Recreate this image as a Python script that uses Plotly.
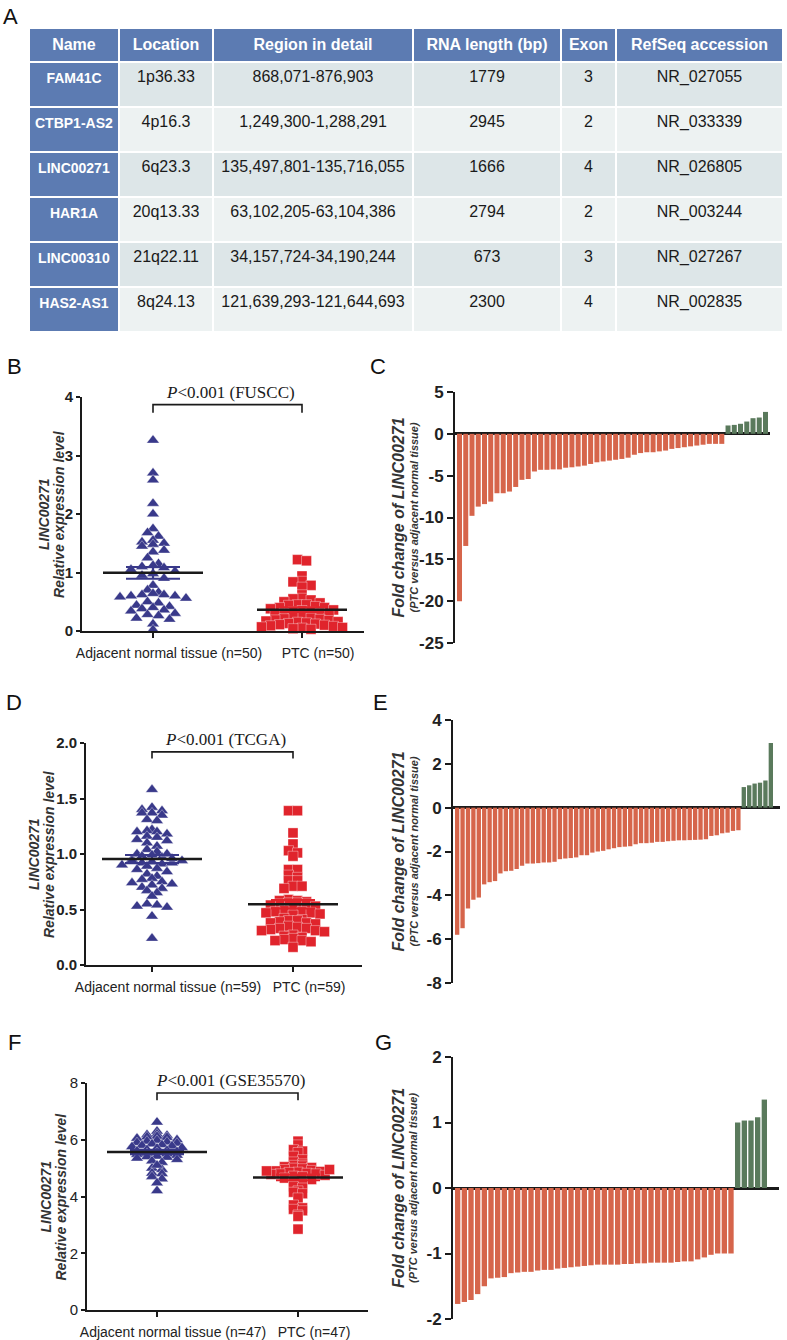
import numpy as np
import plotly.graph_objects as go

W, H = 787, 1340

# ---------------- Data ----------------
table_header = ["Name", "Location", "Region in detail", "RNA length (bp)", "Exon", "RefSeq accession"]
lnc_names = ["FAM41C", "CTBP1-AS2", "LINC00271", "HAR1A", "LINC00310", "HAS2-AS1"]
lnc_location = ["1p36.33", "4p16.3", "6q23.3", "20q13.33", "21q22.11", "8q24.13"]
lnc_region = ["868,071-876,903", "1,249,300-1,288,291", "135,497,801-135,716,055",
              "63,102,205-63,104,386", "34,157,724-34,190,244", "121,639,293-121,644,693"]
lnc_rna_length = [1779, 2945, 1666, 2794, 673, 2300]
lnc_exon = [3, 2, 4, 2, 3, 4]
lnc_refseq = ["NR_027055", "NR_033339", "NR_026805", "NR_003244", "NR_027267", "NR_002835"]

# Panel B (FUSCC)
fuscc_labels = ["Adjacent normal tissue (n=50)", "PTC (n=50)"]
fuscc_adjacent = [3.26, 2.70, 2.58, 2.18, 2.00, 1.75, 1.68, 1.62, 1.55, 1.52, 1.50, 1.48, 1.45,
                  1.38, 1.35, 1.25, 1.15, 1.12, 1.10, 1.08, 1.05, 1.02, 0.98, 0.95, 0.90, 0.78,
                  0.70, 0.66, 0.64, 0.62, 0.62, 0.60, 0.60, 0.58, 0.56, 0.50, 0.48, 0.44, 0.42,
                  0.40, 0.38, 0.36, 0.34, 0.30, 0.28, 0.26, 0.22, 0.20, 0.12, 0.02]
fuscc_ptc = [1.22, 1.20, 0.94, 0.85, 0.84, 0.78, 0.75, 0.62, 0.56, 0.55, 0.53, 0.50, 0.48, 0.45,
             0.45, 0.44, 0.42, 0.40, 0.40, 0.38, 0.36, 0.35, 0.33, 0.32, 0.30, 0.30, 0.28, 0.27,
             0.25, 0.24, 0.22, 0.21, 0.20, 0.19, 0.18, 0.17, 0.16, 0.15, 0.14, 0.13, 0.12, 0.11,
             0.10, 0.09, 0.08, 0.07, 0.06, 0.05, 0.04, 0.03]
# Panel C
fuscc_fold = [-20.0, -13.4, -9.8, -8.7, -8.4, -8.1, -7.1, -7.1, -6.9, -6.35, -5.5, -5.4, -4.5,
              -4.3, -4.3, -4.25, -4.25, -4.05, -4.0, -3.9, -3.8, -3.6, -3.4, -3.3, -3.2, -3.1,
              -3.0, -2.85, -2.5, -2.3, -2.2, -2.2, -2.1, -2.0, -1.8, -1.7, -1.6, -1.5, -1.4,
              -1.3, -1.2, -1.2, -1.2, 1.0, 1.07, 1.2, 1.47, 1.87, 1.95, 2.62]

# Panel D (TCGA)
tcga_labels = ["Adjacent normal tissue (n=59)", "PTC (n=59)"]
tcga_adjacent = [1.58, 1.42, 1.40, 1.39, 1.37, 1.37, 1.35, 1.31, 1.30, 1.22, 1.21, 1.20, 1.20,
                 1.18, 1.16, 1.15, 1.13, 1.12, 1.10, 1.07, 1.04, 1.02, 1.00, 0.99, 0.98, 0.97,
                 0.95, 0.93, 0.92, 0.91, 0.94, 0.92, 0.90, 0.89, 0.87, 0.86, 0.84, 0.82, 0.80,
                 0.78, 0.77, 0.75, 0.74, 0.73, 0.72, 0.70, 0.69, 0.67, 0.65, 0.62, 0.55, 0.54,
                 0.53, 0.52, 0.44, 0.24, 1.00, 0.96, 0.94]
tcga_ptc = [1.39, 1.39, 1.19, 1.09, 1.03, 1.01, 0.98, 0.86, 0.86, 0.81, 0.79, 0.76, 0.76, 0.71,
            0.69, 0.71, 0.59, 0.58, 0.58, 0.57, 0.56, 0.56, 0.55, 0.55, 0.54, 0.53, 0.50, 0.49,
            0.48, 0.48, 0.47, 0.47, 0.46, 0.45, 0.42, 0.41, 0.40, 0.40, 0.39, 0.38, 0.38, 0.37,
            0.35, 0.34, 0.33, 0.33, 0.32, 0.31, 0.31, 0.30, 0.27, 0.26, 0.25, 0.24, 0.23, 0.22,
            0.22, 0.21, 0.16]
# Panel E
tcga_fold = [-5.8, -5.5, -4.6, -4.2, -4.1, -3.5, -3.4, -3.35, -3.0, -2.9, -2.88, -2.8, -2.65,
             -2.55, -2.55, -2.53, -2.5, -2.5, -2.47, -2.35, -2.32, -2.3, -2.27, -2.17, -2.17,
             -2.05, -2.0, -1.97, -1.9, -1.85, -1.8, -1.78, -1.76, -1.67, -1.62, -1.62, -1.6,
             -1.56, -1.56, -1.53, -1.51, -1.49, -1.49, -1.48, -1.47, -1.46, -1.44, -1.29, -1.26,
             -1.17, -1.14, -1.06, -1.03, 0.94, 1.02, 1.10, 1.14, 1.24, 2.95]

# Panel F (GSE35570)
geo_labels = ["Adjacent normal tissue (n=47)", "PTC (n=47)"]
geo_adjacent = [6.62, 6.30, 6.20, 6.18, 6.15, 6.12, 6.10, 6.08, 6.05, 6.00, 5.98, 5.95, 5.92,
                5.90, 5.88, 5.85, 5.82, 5.80, 5.78, 5.75, 5.72, 5.70, 5.65, 5.62, 5.60, 5.58,
                5.55, 5.52, 5.50, 5.48, 5.45, 5.42, 5.40, 5.38, 5.35, 5.30, 5.25, 5.20, 5.00,
                4.95, 4.82, 4.80, 4.70, 4.62, 4.48, 4.20, 5.10]
geo_ptc = [5.95, 5.82, 5.65, 5.60, 5.55, 5.42, 5.30, 5.22, 5.15, 5.10, 5.08, 5.05, 5.02, 5.00,
           4.98, 4.95, 4.92, 4.90, 4.88, 4.86, 4.85, 4.82, 4.80, 4.80, 4.78, 4.75, 4.72, 4.70,
           4.65, 4.60, 4.52, 4.45, 4.35, 4.30, 4.20, 4.15, 4.10, 3.95, 3.70, 3.60, 3.55, 3.50,
           3.35, 3.30, 2.85, 4.90, 4.95]
# Panel G
geo_fold = [-1.77, -1.74, -1.71, -1.62, -1.50, -1.38, -1.37, -1.36, -1.30, -1.29, -1.28, -1.28,
            -1.26, -1.25, -1.25, -1.23, -1.22, -1.21, -1.20, -1.19, -1.18, -1.17, -1.17, -1.17,
            -1.17, -1.16, -1.16, -1.15, -1.15, -1.14, -1.14, -1.14, -1.14, -1.13, -1.12, -1.12,
            -1.09, -1.06, -1.02, -1.00, -1.00, -1.00, 1.00, 1.03, 1.03, 1.08, 1.35]

# ---------------- Styles ----------------
SANS = "Liberation Sans, Arial, sans-serif"
SERIF = "Liberation Serif, Times New Roman, serif"
INK = "#1a1a1a"
NAVY = "#39398a"
RED_PT = "#e0242c"
BAR_DOWN = "#d6654b"
BAR_UP = "#5a7a5c"
HEAD_BLUE = "#5c7bb2"
ROW_A = "#dde6e8"
ROW_B = "#edf2f2"


def fx(p):
    return p / W


def fy(p):
    return 1 - p / H


def tick_strings(lo, hi, step, fmt="{:g}"):
    vals = np.arange(lo, hi + step / 2, step)
    return list(vals), [fmt.format(v).replace("\u2212", "-") for v in vals]


fig = go.Figure()

# ---------------- Table (A) ----------------
nrows = len(lnc_names)
row_fill = [ROW_A if i % 2 == 0 else ROW_B for i in range(nrows)]
fig.add_trace(go.Table(
    domain=dict(x=[fx(29), fx(783)], y=[fy(338), fy(28)]),
    columnwidth=[90, 94, 200, 148, 55, 167],
    header=dict(values=[f"<b>{h}</b>" for h in table_header], fill_color=HEAD_BLUE,
                line=dict(color="white", width=2), align="center",
                font=dict(family=SANS, size=16, color="white"), height=34),
    cells=dict(values=[[f"<b>{n}</b>" for n in lnc_names], lnc_location, lnc_region,
                       lnc_rna_length, lnc_exon, lnc_refseq],
               fill_color=[[HEAD_BLUE] * nrows] + [row_fill] * 5,
               line=dict(color="white", width=2), align="center",
               font=dict(family=SANS, size=[14, 16, 16, 16, 16, 16],
                         color=["white"] + [INK] * 5),
               height=45),
))


def swarm_offsets(values, px_per_y, px_per_x, row_px, gap_px):
    v = np.asarray(values, dtype=float)
    rows = np.floor(v * px_per_y / row_px + 0.5).astype(int)
    off = np.zeros(len(v))
    for r in np.unique(rows):
        idx = np.where(rows == r)[0]
        n = len(idx)
        slots = np.arange(n) - (n - 1) / 2.0
        order = np.argsort(np.abs(slots) + 1e-3 * slots, kind="stable")
        for k, i in enumerate(idx):
            off[i] = slots[order[k]] * gap_px / px_per_x
    return off


annotations = []
layout_axes = {}


def text_ann(x, y, text, font, angle=0, xref="paper", yref="paper", **kw):
    d = dict(xref=xref, yref=yref, x=x, y=y, text=text, font=font, showarrow=False,
             textangle=angle, xanchor="center", yanchor="middle")
    d.update(kw)
    annotations.append(d)


# ---------------- Dot plots (B, D, F) ----------------
dot_panels = [
    dict(n="", adj=fuscc_adjacent, ptc=fuscc_ptc, labels=fuscc_labels, tag="FUSCC",
         xpx=(82, 364), tickpx=(153, 302), ypx=(397, 631), yrange=(0, 4), dtick=1,
         tickfmt="{:g}", bold=True, brk=(3.73, 3.87), row_px=(7, 6), gaps=(11, 9),
         title_x=(44, 59)),
    dict(n="3", adj=tcga_adjacent, ptc=tcga_ptc, labels=tcga_labels, tag="TCGA",
         xpx=(86, 362), tickpx=(152, 293), ypx=(743, 965), yrange=(0, 2), dtick=0.5,
         tickfmt="{:.1f}", bold=True, brk=(1.86, 1.92), row_px=(6, 6), gaps=(10, 9),
         title_x=(34, 49)),
    dict(n="5", adj=geo_adjacent, ptc=geo_ptc, labels=geo_labels, tag="GSE35570",
         xpx=(87, 368), tickpx=(157, 298), ypx=(1083, 1310), yrange=(0, 8), dtick=2,
         tickfmt="{:g}", bold=False, brk=(7.39, 7.65), row_px=(4, 4), gaps=(10, 9),
         title_x=(45, 60)),
]

title_font = dict(family=SANS, size=14, color="#333", weight="bold", style="italic")

for p in dot_panels:
    xa, ya = "x" + p["n"], "y" + p["n"]
    x0p, x1p = p["xpx"]
    t0, t1 = p["tickpx"]
    upx = float(t1 - t0)
    xr = [-(t0 - x0p) / upx, (x1p - t0) / upx]
    ytop, ybot = p["ypx"]
    ppy = (ybot - ytop) / (p["yrange"][1] - p["yrange"][0])

    groups = [(p["adj"], "triangle-up", NAVY, 11, p["gaps"][0], p["row_px"][0], 50, 27),
              (p["ptc"], "square", RED_PT, 10, p["gaps"][1], p["row_px"][1], 45, 22)]
    for ci, (vals, sym, col, size, gap, rpx, half, cap) in enumerate(groups):
        v = np.asarray(vals, dtype=float)
        off = swarm_offsets(v, ppy, upx, rpx, gap)
        fig.add_trace(go.Scatter(
            x=ci + off, y=v, mode="markers", xaxis=xa, yaxis=ya, cliponaxis=False,
            marker=dict(symbol=sym, size=size, color=col,
                        line=dict(width=0.6, color="rgba(255,255,255,0.6)")),
            hoverinfo="y"))
    for ci, (vals, sym, col, size, gap, rpx, half, cap) in enumerate(groups):
        v = np.asarray(vals, dtype=float)
        m = v.mean()
        s = v.std(ddof=1) / np.sqrt(len(v))
        fig.add_trace(go.Scatter(
            x=[ci], y=[m], mode="markers", xaxis=xa, yaxis=ya,
            marker=dict(size=1, color="rgba(0,0,0,0)"),
            error_y=dict(type="data", array=[s], color=col, thickness=2.2, width=cap)))
        fig.add_trace(go.Scatter(
            x=[ci - half / upx, ci + half / upx], y=[m, m], mode="lines", xaxis=xa, yaxis=ya,
            line=dict(color=INK, width=2.5), hoverinfo="skip"))
    # significance bracket
    b_lo, b_hi = p["brk"]
    fig.add_trace(go.Scatter(x=[0, 0, 1, 1], y=[b_lo, b_hi, b_hi, b_lo], mode="lines",
                             xaxis=xa, yaxis=ya, cliponaxis=False,
                             line=dict(color=INK, width=1.6), hoverinfo="skip"))
    text_ann(0.52, b_hi, f"<i>P</i>&lt;0.001 ({p['tag']})",
             dict(family=SERIF, size=17, color=INK), xref=xa, yref=ya,
             yanchor="bottom", yshift=1)
    tv, tt = tick_strings(p["yrange"][0], p["yrange"][1], p["dtick"], p["tickfmt"])
    layout_axes["xaxis" + p["n"]] = dict(
        domain=[fx(x0p), fx(x1p)], anchor=ya, range=xr, showgrid=False, zeroline=False,
        automargin=False,
        showline=True, linecolor=INK, linewidth=2, ticks="outside", ticklen=5, tickwidth=2,
        tickcolor=INK, tickvals=[0, 1], ticktext=p["labels"], ticklabelshift=16,
        ticklabelstandoff=3, tickfont=dict(family=SANS, size=14, color="#222"))
    layout_axes["yaxis" + p["n"]] = dict(
        domain=[fy(ybot), fy(ytop)], anchor=xa, range=list(p["yrange"]),
        tickvals=tv, ticktext=tt, showgrid=False, zeroline=False, showline=True,
        automargin=False,
        linecolor=INK, linewidth=2, ticks="outside", ticklen=4, tickwidth=2, tickcolor=INK,
        tickfont=dict(family=SANS, size=15, color="#222",
                      weight="bold" if p["bold"] else "normal"))
    ymid = fy((ytop + ybot) / 2)
    text_ann(fx(p["title_x"][0]), ymid, "LINC00271", title_font, angle=-90)
    text_ann(fx(p["title_x"][1]), ymid, "Relative expression level", title_font, angle=-90)

# ---------------- Waterfall bar plots (C, E, G) ----------------
bar_panels = [
    dict(n="2", vals=fuscc_fold, xpx=(455, 770), barpx=(457, 768), ypx=(392, 643),
         yrange=(-25, 5), dtick=5),
    dict(n="4", vals=tcga_fold, xpx=(453, 780), barpx=(455, 773), ypx=(720, 983),
         yrange=(-8, 4), dtick=2),
    dict(n="6", vals=geo_fold, xpx=(453, 779), barpx=(455, 767), ypx=(1057, 1319),
         yrange=(-2, 2), dtick=1),
]
BW = 0.8
for p in bar_panels:
    xa, ya = "x" + p["n"], "y" + p["n"]
    v = np.asarray(p["vals"], dtype=float)
    n = len(v)
    x0p, x1p = p["xpx"]
    b0, b1 = p["barpx"]
    u = (n - 1 + BW) / (b1 - b0)
    r0 = -BW / 2 - (b0 - x0p) * u
    r1 = r0 + (x1p - x0p) * u
    ytop, ybot = p["ypx"]
    fig.add_trace(go.Bar(x=np.arange(n), y=v, width=BW, xaxis=xa, yaxis=ya,
                         marker=dict(color=[BAR_DOWN if val < 0 else BAR_UP for val in v],
                                     line=dict(width=0))))
    tv, tt = tick_strings(p["yrange"][0], p["yrange"][1], p["dtick"])
    layout_axes["xaxis" + p["n"]] = dict(
        domain=[fx(x0p), fx(x1p)], anchor=ya, range=[r0, r1], showgrid=False,
        automargin=False,
        zeroline=False, showline=False, showticklabels=False, ticks="")
    layout_axes["yaxis" + p["n"]] = dict(
        domain=[fy(ybot), fy(ytop)], anchor=xa, range=list(p["yrange"]),
        tickvals=tv, ticktext=tt, showgrid=False, zeroline=True, zerolinecolor=INK,
        zerolinewidth=2.5, automargin=False,
        showline=True, linecolor=INK, linewidth=2, ticks="outside", ticklen=6, tickwidth=2,
        tickcolor=INK, tickfont=dict(family=SANS, size=17, color="#222", weight="bold"))
    ymid = fy((ytop + ybot) / 2)
    text_ann(fx(398), ymid, "Fold change of LINC00271",
             dict(family=SANS, size=16, color="#333", weight="bold", style="italic"), angle=-90)
    text_ann(fx(413), ymid, "(PTC versus adjacent normal tissue)",
             dict(family=SANS, size=11, color="#333", weight="bold", style="italic"), angle=-90)

# ---------------- Panel letters ----------------
panel_letters = [("A", 10, 16), ("B", 14, 366), ("C", 378, 366), ("D", 14, 703),
                 ("E", 380, 703), ("F", 14, 1042), ("G", 383, 1042)]
for t, lx, ly in panel_letters:
    text_ann(fx(lx), fy(ly), t, dict(family=SANS, size=22, color="#111"))

fig.update_layout(
    width=W, height=H, margin=dict(l=0, r=0, t=0, b=0, autoexpand=False),
    paper_bgcolor="white", plot_bgcolor="white", showlegend=False,
    annotations=annotations, **layout_axes)

fig.write_html("out.html", config={"displayModeBar": False},
               post_script="document.body.style.margin='0px';"
                           "document.body.style.overflow='hidden';")
